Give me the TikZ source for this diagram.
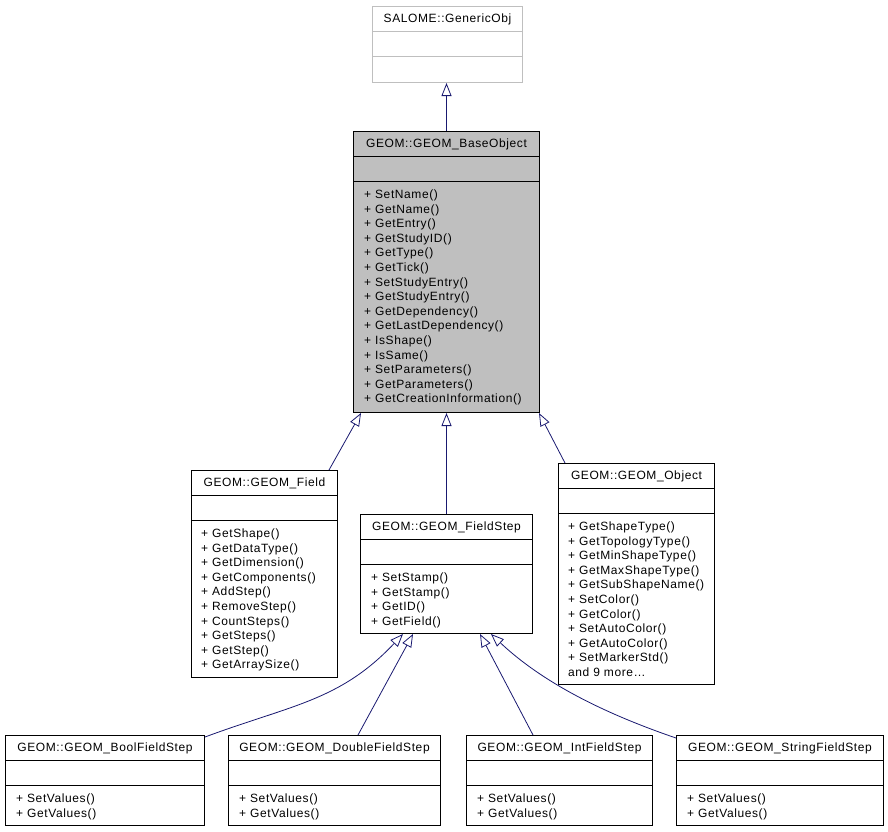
\documentclass[tikz,border=0pt]{standalone}
\usepackage{fontspec}
\setmainfont{Liberation Sans}[LetterSpace=5.0]
\usetikzlibrary{arrows.meta}

\definecolor{grey75}{HTML}{BFBFBF}
\definecolor{edgeblue}{HTML}{191970}

\tikzset{
  classbox/.style={draw, line width=1pt, inner sep=0pt, anchor=north west},
  classname/.style={anchor=base, inner sep=0pt},
  classops/.style={anchor=north west, inner sep=0pt, align=left},
  inherit/.style={draw=edgeblue, line width=0.8pt,
    -{Triangle[open, length=13pt, width=10pt]}}
}

\begin{document}
\begin{tikzpicture}[x=1pt, y=-1pt, font=\fontsize{12}{14.6}\selectfont]
  \useasboundingbox (0,0) rectangle (888,831);

  % class frames
  \node[classbox, draw=grey75, minimum width=150, minimum height=76] (generic) at (372,6) {};
  \node[classbox, fill=grey75, minimum width=186, minimum height=281] (base) at (353,131) {};
  \node[classbox, minimum width=146, minimum height=207] (field) at (191,470) {};
  \node[classbox, minimum width=172, minimum height=119] (fstep) at (360,514) {};
  \node[classbox, minimum width=156, minimum height=221] (object) at (558,463) {};
  \node[classbox, minimum width=199, minimum height=90] (bool) at (5,735) {};
  \node[classbox, minimum width=212, minimum height=90] (double) at (228,735) {};
  \node[classbox, minimum width=186, minimum height=90] (int) at (466,735) {};
  \node[classbox, minimum width=207, minimum height=90] (string) at (676,735) {};

  % compartments
  \foreach \c/\col in {generic/grey75, base/black, field/black, fstep/black, object/black,
                       bool/black, double/black, int/black, string/black} {
    \draw[\col, line width=1pt] ([yshift=-25.5pt]\c.north west) -- ([yshift=-25.5pt]\c.north east);
    \draw[\col, line width=1pt] ([yshift=-50.5pt]\c.north west) -- ([yshift=-50.5pt]\c.north east);
  }

  % names
  \node[classname] (generic-name) at ([yshift=-16pt]generic.north) {SALOME::GenericObj};
  \node[classname] (base-name) at ([yshift=-16.5pt]base.north) {GEOM::GEOM\_BaseObject};
  \node[classname] (field-name) at ([yshift=-16.5pt]field.north) {GEOM::GEOM\_Field};
  \node[classname] (fstep-name) at ([yshift=-16.5pt]fstep.north) {GEOM::GEOM\_FieldStep};
  \node[classname] (object-name) at ([yshift=-16.5pt]object.north) {GEOM::GEOM\_Object};
  \node[classname] (bool-name) at ([yshift=-16.5pt]bool.north) {GEOM::GEOM\_BoolFieldStep};
  \node[classname] (double-name) at ([yshift=-16.5pt]double.north) {GEOM::GEOM\_DoubleFieldStep};
  \node[classname] (int-name) at ([yshift=-16.5pt]int.north) {GEOM::GEOM\_IntFieldStep};
  \node[classname] (string-name) at ([yshift=-16.5pt]string.north) {GEOM::GEOM\_StringFieldStep};

  % operations
  \node[classops] (base-ops) at ([xshift=11pt, yshift=-58.5pt]base.north west)
    {+ SetName()\\+ GetName()\\+ GetEntry()\\+ GetStudyID()\\+ GetType()\\+ GetTick()\\
     + SetStudyEntry()\\+ GetStudyEntry()\\+ GetDependency()\\+ GetLastDependency()\\
     + IsShape()\\+ IsSame()\\+ SetParameters()\\+ GetParameters()\\+ GetCreationInformation()};
  \node[classops] (field-ops) at ([xshift=10pt, yshift=-58.5pt]field.north west)
    {+ GetShape()\\+ GetDataType()\\+ GetDimension()\\+ GetComponents()\\+ AddStep()\\
     + RemoveStep()\\+ CountSteps()\\+ GetSteps()\\+ GetStep()\\+ GetArraySize()};
  \node[classops] (fstep-ops) at ([xshift=11pt, yshift=-58.5pt]fstep.north west)
    {+ SetStamp()\\+ GetStamp()\\+ GetID()\\+ GetField()};
  \node[classops] (object-ops) at ([xshift=10pt, yshift=-58.5pt]object.north west)
    {+ GetShapeType()\\+ GetTopologyType()\\+ GetMinShapeType()\\+ GetMaxShapeType()\\
     + GetSubShapeName()\\+ SetColor()\\+ GetColor()\\+ SetAutoColor()\\+ GetAutoColor()\\
     + SetMarkerStd()\\and 9 more\ldots};
  \foreach \c in {bool, double, int, string}
    \node[classops] (\c-ops) at ([xshift=11pt, yshift=-58.5pt]\c.north west)
      {+ SetValues()\\+ GetValues()};

  % inheritance
  \draw[inherit] (base.north) -- (base.north |- generic.south);
  \draw[inherit] ([xshift=-9pt]field.north east) -- ([xshift=8pt]base.south west);
  \draw[inherit] (fstep.north) -- (base.south);
  \draw[inherit] ([xshift=7pt]object.north west) -- ([xshift=-1pt]base.south east);
  \draw[inherit] ([yshift=-2pt]bool.north east) .. controls +(86,-32) and +(-63,67) .. ([xshift=43pt]fstep.south west);
  \draw[inherit] ([xshift=130pt]double.north west) -- ([xshift=53pt]fstep.south west);
  \draw[inherit] ([xshift=67pt]int.north west) -- ([xshift=-53pt]fstep.south east);
  \draw[inherit] ([yshift=-3pt]string.north west) .. controls +(-76,-26) and +(50,47) .. ([xshift=-42pt]fstep.south east);
\end{tikzpicture}
\end{document}
